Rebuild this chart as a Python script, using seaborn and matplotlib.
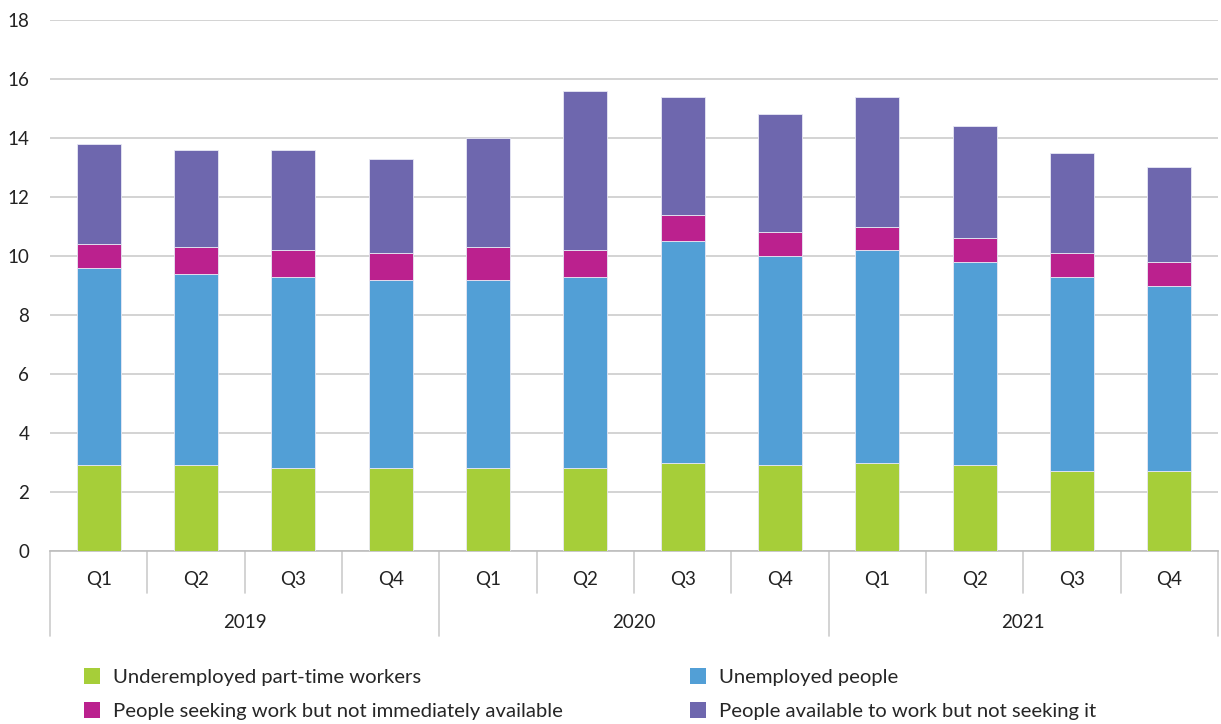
import numpy as np
import pandas as pd
import matplotlib
matplotlib.use("Agg")
import matplotlib.pyplot as plt
import matplotlib.transforms as mtransforms
from matplotlib.patches import Patch
import seaborn as sns

years = ["2019", "2020", "2021"]
quarters = ["Q1", "Q2", "Q3", "Q4"]

underemployed = [2.9, 2.9, 2.8, 2.8, 2.8, 2.8, 3.0, 2.9, 3.0, 2.9, 2.7, 2.7]
unemployed = [6.7, 6.5, 6.5, 6.4, 6.4, 6.5, 7.5, 7.1, 7.2, 6.9, 6.6, 6.3]
seeking_not_available = [0.8, 0.9, 0.9, 0.9, 1.1, 0.9, 0.9, 0.8, 0.8, 0.8, 0.8, 0.8]
available_not_seeking = [3.4, 3.3, 3.4, 3.2, 3.7, 5.4, 4.0, 4.0, 4.4, 3.8, 3.4, 3.2]

series_names = [
    "Underemployed part-time workers",
    "Unemployed people",
    "People seeking work but not immediately available",
    "People available to work but not seeking it",
]
series_values = [underemployed, unemployed, seeking_not_available, available_not_seeking]
colors = ["#A6CE39", "#529FD6", "#BB218E", "#6E67AE"]

periods = [f"{y} {q}" for y in years for q in quarters]

sns.set_theme(style="white")
plt.rcParams["font.family"] = ["Lato", "DejaVu Sans"]

fig = plt.figure(figsize=(12.21, 7.24), dpi=100)
ax = fig.add_axes([50 / 1221, 1 - 551 / 724, (1218 - 50) / 1221, (551 - 20) / 724])

bottom = np.zeros(len(periods))
for name, vals, col in zip(series_names, series_values, colors):
    df = pd.DataFrame({"period": periods, "value": vals})
    sns.barplot(data=df, x="period", y="value", order=periods, color=col,
                saturation=1, bottom=bottom.copy(), width=0.45,
                edgecolor="#e8e8f4", linewidth=0.6, ax=ax, zorder=3)
    bottom += np.array(vals)

ax.set_ylim(0, 18)
ax.set_xlim(-0.5, len(periods) - 0.5)
ax.set_yticks(np.arange(0, 19, 2))
ax.tick_params(axis="y", labelsize=13.5, colors="#222222", length=0, pad=15)
ax.yaxis.grid(True, color="#cccccc", linewidth=1.2, zorder=0)
ax.set_axisbelow(True)
ax.set_xlabel("")
ax.set_ylabel("")
for s in ["left", "right", "top"]:
    ax.spines[s].set_visible(False)
ax.spines["bottom"].set_color("#bdbdbd")
ax.spines["bottom"].set_linewidth(1.2)

# Two-level category axis: quarters, then years
ax.set_xticks(range(len(periods)))
ax.set_xticklabels([])
ax.tick_params(axis="x", length=0)
trans = mtransforms.blended_transform_factory(ax.transData, ax.transAxes)
px = 1 / (551 - 20)
for i, p in enumerate(periods):
    ax.text(i, -28 * px, p.split()[1], transform=trans, ha="center", va="center",
            fontsize=13.5, color="#222222")
for i in range(len(periods) + 1):
    x = i - 0.5
    depth = 85 if i % 4 == 0 else 42
    ax.plot([x, x], [0, -depth * px], transform=trans, color="#cccccc",
            linewidth=1.2, clip_on=False)
for j, y in enumerate(years):
    ax.text(j * 4 + 1.5, -71 * px, y, transform=trans, ha="center", va="center",
            fontsize=13.5, color="#222222")

# Legend filled row by row (matplotlib fills columns first)
order = [0, 2, 1, 3]
handles = [Patch(facecolor=colors[k], edgecolor="none") for k in order]
labels = [series_names[k] for k in order]
fig.legend(handles, labels, loc="upper left", bbox_to_anchor=(66 / 1221, 1 - 650 / 724),
           ncol=2, frameon=False, fontsize=14.6, handlelength=0.8, handleheight=0.8,
           handletextpad=0.6, columnspacing=6.3, labelspacing=0.8)

fig.savefig("out.png", dpi=100)
